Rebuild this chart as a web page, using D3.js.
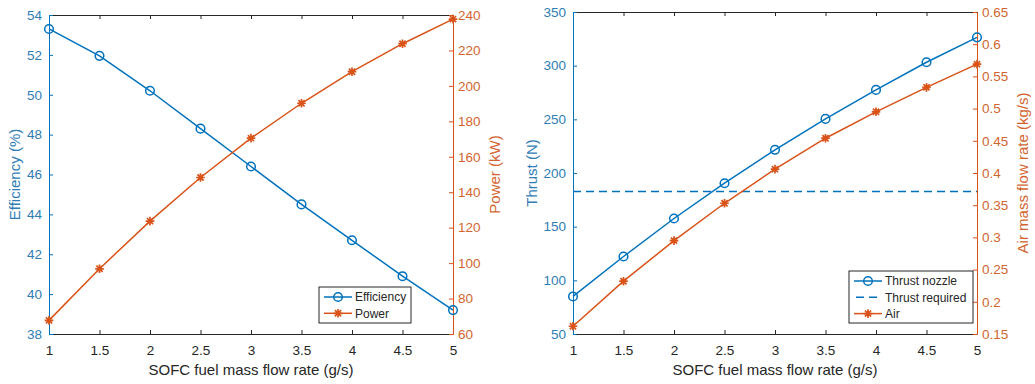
<!DOCTYPE html>
<html><head><meta charset="utf-8">
<script src="https://cdn.jsdelivr.net/npm/d3@7/dist/d3.min.js"></script>
<style>
html,body{margin:0;padding:0;background:#fff;}
svg{display:block;font-family:"Liberation Sans",Arial,Helvetica,sans-serif;}
</style></head>
<body><svg id="c" width="1035" height="384"></svg>
<script>
// ---- data ----
const fuelFlow = [1, 1.5, 2, 2.5, 3, 3.5, 4, 4.5, 5];
const efficiency = [53.3, 51.95, 50.2, 48.3, 46.4, 44.5, 42.7, 40.9, 39.2];
const power = [67.7, 96.8, 123.7, 148.3, 170.5, 190.2, 208, 223.8, 237.7];
const thrustNozzle = [85, 122.2, 157.6, 190.5, 221.6, 250.4, 277.4, 303.2, 326.4];
const thrustRequired = 182.7;
const airFlow = [0.162, 0.232, 0.295, 0.353, 0.406, 0.454, 0.495, 0.533, 0.569];
const xTicks = [1, 1.5, 2, 2.5, 3, 3.5, 4, 4.5, 5];
const effTicks = [38, 40, 42, 44, 46, 48, 50, 52, 54];
const powerTicks = [60, 80, 100, 120, 140, 160, 180, 200, 220, 240];
const thrustTicks = [50, 100, 150, 200, 250, 300, 350];
const airTicks = [0.15, 0.2, 0.25, 0.3, 0.35, 0.4, 0.45, 0.5, 0.55, 0.6, 0.65];
const xLabel = "SOFC fuel mass flow rate (g/s)";

const BLUE = "#0072BD", ORANGE = "#D95319", BLACK = "#262626";
const BLUE_T = "#2f7db5", ORANGE_T = "#d2652f";
const svg = d3.select("#c");

function starPath(r){
  const d = r*0.72;
  return `M${-r},0L${r},0M0,${-r}L0,${r}M${-d},${-d}L${d},${d}M${-d},${d}L${d},${-d}`;
}

function panel(cfg){
  const g = svg.append("g");
  const x = d3.scaleLinear().domain([1,5]).range([cfg.x0, cfg.x1]);
  const yl = d3.scaleLinear().domain(cfg.lDom).range([cfg.y1, cfg.y0]);
  const yr = d3.scaleLinear().domain(cfg.rDom).range([cfg.y1, cfg.y0]);

  const ax = g.append("g").attr("transform",`translate(0,${cfg.y1})`)
    .call(d3.axisBottom(x).tickValues(xTicks).tickSize(-4).tickSizeOuter(0).tickPadding(11).tickFormat(d3.format("")));
  const at = g.append("g").attr("transform",`translate(0,${cfg.y0})`)
    .call(d3.axisTop(x).tickValues(xTicks).tickSize(-4).tickSizeOuter(0).tickFormat(""));
  [ax,at].forEach(a=>{
    a.selectAll("path,line").attr("stroke",BLACK).attr("stroke-width",1);
    a.selectAll("text").attr("fill",BLACK).attr("font-size",13.5).attr("font-family","Liberation Sans, Arial, sans-serif");
  });
  const al = g.append("g").attr("transform",`translate(${cfg.x0},0)`)
    .call(d3.axisLeft(yl).tickValues(cfg.lTicks).tickSize(-4).tickSizeOuter(0).tickPadding(7).tickFormat(d3.format("")));
  al.selectAll("path,line").attr("stroke",BLUE).attr("stroke-width",1);
  al.selectAll("text").attr("fill",BLUE_T).attr("font-size",13.5).attr("font-family","Liberation Sans, Arial, sans-serif");
  const ar = g.append("g").attr("transform",`translate(${cfg.x1},0)`)
    .call(d3.axisRight(yr).tickValues(cfg.rTicks).tickSize(-4).tickSizeOuter(0).tickPadding(5).tickFormat(d3.format("")));
  ar.selectAll("path,line").attr("stroke",ORANGE).attr("stroke-width",1);
  ar.selectAll("text").attr("fill",ORANGE_T).attr("font-size",13.5).attr("font-family","Liberation Sans, Arial, sans-serif");

  g.append("text").attr("x",(cfg.x0+cfg.x1)/2).attr("y",375).attr("text-anchor","middle")
    .attr("font-size",15).attr("fill",BLACK).text(xLabel);
  g.append("text").attr("transform",`translate(${cfg.ylx},${(cfg.y0+cfg.y1)/2}) rotate(-90)`)
    .attr("text-anchor","middle").attr("font-size",15).attr("fill",BLUE_T).text(cfg.lLabel);
  g.append("text").attr("transform",`translate(${cfg.yrx},${(cfg.y0+cfg.y1)/2}) rotate(-90)`)
    .attr("text-anchor","middle").attr("font-size",15).attr("fill",ORANGE_T).text(cfg.rLabel);

  return {g,x,yl,yr};
}

function series(g, x, y, xs, ys, color, marker){
  const line = d3.line().x((d,i)=>x(xs[i])).y(d=>y(d));
  g.append("path").datum(ys).attr("d",line).attr("fill","none").attr("stroke",color).attr("stroke-width",1.5);
  if(marker==="o"){
    g.selectAll(null).data(ys).enter().append("circle")
      .attr("cx",(d,i)=>x(xs[i])).attr("cy",d=>y(d)).attr("r",4.3)
      .attr("fill","none").attr("stroke",color).attr("stroke-width",1.5);
  } else {
    g.selectAll(null).data(ys).enter().append("path")
      .attr("transform",(d,i)=>`translate(${x(xs[i])},${y(d)})`).attr("d",starPath(4.3))
      .attr("fill","none").attr("stroke",color).attr("stroke-width",1.7);
  }
}

function legend(g, x0, y0, w, h, items){
  const lg = g.append("g");
  lg.append("rect").attr("x",x0).attr("y",y0).attr("width",w).attr("height",h)
    .attr("fill","#fff").attr("stroke",BLACK).attr("stroke-width",1);
  items.forEach((it,i)=>{
    const cy = y0 + 10 + i*16.3;
    const lx0 = x0+5, lx1 = x0+33, cx=(lx0+lx1)/2;
    const ln = lg.append("line").attr("x1",lx0).attr("x2",lx1).attr("y1",cy).attr("y2",cy)
      .attr("stroke",it.color).attr("stroke-width",1.5);
    if(it.marker==="--") ln.attr("stroke-dasharray","8,5").attr("x1",lx0+2);
    if(it.marker==="o") lg.append("circle").attr("cx",cx).attr("cy",cy).attr("r",4.3)
      .attr("fill","none").attr("stroke",it.color).attr("stroke-width",1.5);
    if(it.marker==="*") lg.append("path").attr("transform",`translate(${cx},${cy})`).attr("d",starPath(4.3))
      .attr("fill","none").attr("stroke",it.color).attr("stroke-width",1.7);
    lg.append("text").attr("x",x0+36).attr("y",cy+4.3).attr("font-size",12).attr("fill",BLACK).text(it.label);
  });
}

const P1 = panel({x0:49,x1:453,y0:15,y1:334,lDom:[38,54],rDom:[60,240],lTicks:effTicks,rTicks:powerTicks,
  lLabel:"Efficiency (%)", rLabel:"Power (kW)", ylx:20, yrx:500});
series(P1.g,P1.x,P1.yl,fuelFlow,efficiency,BLUE,"o");
series(P1.g,P1.x,P1.yr,fuelFlow,power,ORANGE,"*");
legend(P1.g,319,287,92,36,[{label:"Efficiency",color:BLUE,marker:"o"},{label:"Power",color:ORANGE,marker:"*"}]);

const P2 = panel({x0:573,x1:977,y0:12,y1:334,lDom:[50,350],rDom:[0.15,0.65],lTicks:thrustTicks,rTicks:airTicks,
  lLabel:"Thrust (N)", rLabel:"Air mass flow rate (kg/s)", ylx:537, yrx:1028});
series(P2.g,P2.x,P2.yl,fuelFlow,thrustNozzle,BLUE,"o");
P2.g.append("line").attr("x1",P2.x(1)).attr("x2",P2.x(5)).attr("y1",P2.yl(thrustRequired)).attr("y2",P2.yl(thrustRequired))
  .attr("stroke",BLUE).attr("stroke-width",1.5).attr("stroke-dasharray","8,5");
series(P2.g,P2.x,P2.yr,fuelFlow,airFlow,ORANGE,"*");
legend(P2.g,849,271,124,52,[{label:"Thrust nozzle",color:BLUE,marker:"o"},{label:"Thrust required",color:BLUE,marker:"--"},{label:"Air",color:ORANGE,marker:"*"}]);
</script></body></html>
